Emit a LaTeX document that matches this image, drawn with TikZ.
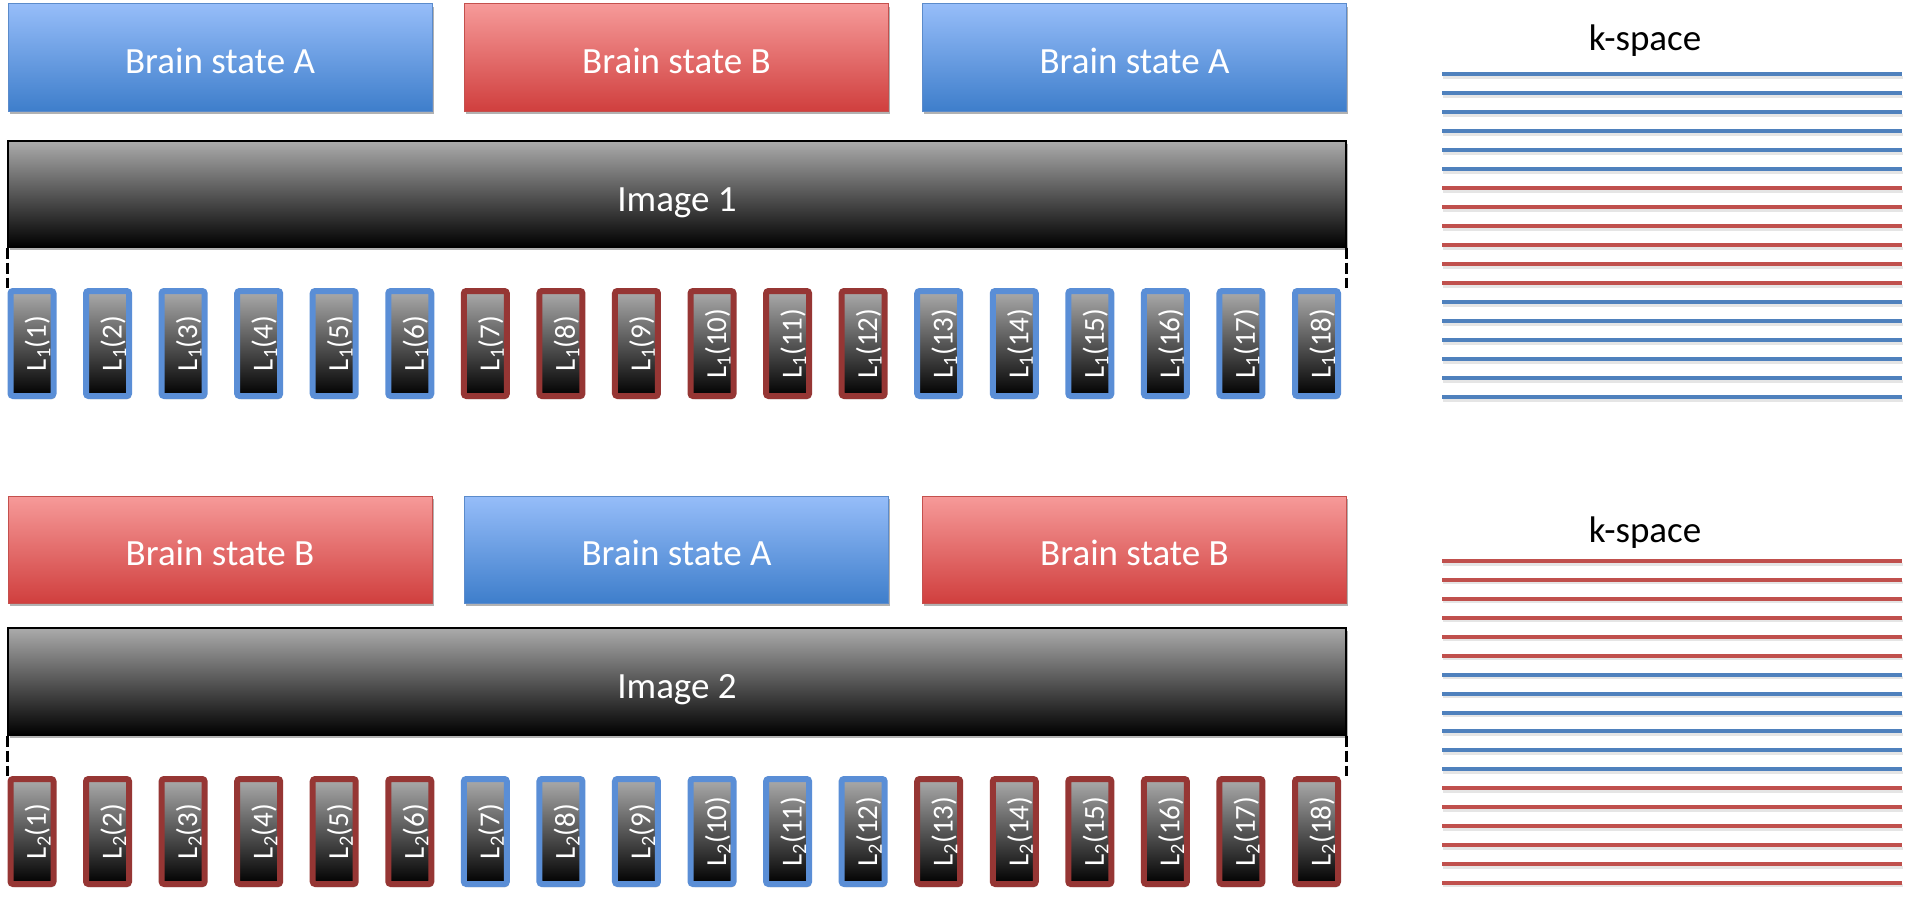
\documentclass[tikz,border=0pt]{standalone}
\usepackage{fontspec}
\usepackage{graphicx}
\setmainfont{Carlito}
\usetikzlibrary{shadows}
\definecolor{bluetop}{HTML}{96BDF9}
\definecolor{bluebot}{HTML}{3E7ECB}
\definecolor{blueedge}{HTML}{5B8BCB}
\definecolor{redtop}{HTML}{F69A99}
\definecolor{redbot}{HTML}{D03F3E}
\definecolor{rededge}{HTML}{C4504D}
\definecolor{lblue}{HTML}{5A8ED6}
\definecolor{lred}{HTML}{963634}
\definecolor{kblue}{HTML}{4F81BD}
\definecolor{kred}{HTML}{C0504D}
\definecolor{imgtop}{HTML}{ABABAB}
\tikzset{
  shad/.style={drop shadow={shadow xshift=1.5pt, shadow yshift=-3pt, opacity=0.3, fill=black}},
  statebox/.style={shad, minimum width=424pt, minimum height=107pt, inner sep=0pt, line width=1pt,
    text=white, font=\fontsize{37}{44}\selectfont, text height=32pt, text depth=0pt},
  stateA/.style={statebox, draw=blueedge, top color=bluetop, bottom color=bluebot},
  stateB/.style={statebox, draw=rededge, top color=redtop, bottom color=redbot},
  imgbox/.style={shad, draw=black, line width=1.2pt, top color=imgtop, bottom color=black,
    minimum width=1338pt, minimum height=106pt, inner sep=0pt, text=white,
    font=\fontsize{37}{44}\selectfont, text height=34pt, text depth=0pt},
  linebox/.style={shad, line width=6pt, rounded corners=2.5pt, top color=imgtop, bottom color=black,
    minimum width=43pt, minimum height=105pt, inner sep=0pt, text=white,
    font=\fontsize{29}{34}\selectfont},
  dashline/.style={line width=3.5pt, dash pattern=on 11pt off 4pt},
  kline/.style={line width=4pt},
  kshadow/.style={line width=3pt, black, opacity=0.1},
  ktitle/.style={font=\fontsize{37}{44}\selectfont, text=black, anchor=base, inner sep=0pt}
}
\begin{document}
\begin{tikzpicture}[x=1pt,y=-1pt]
\useasboundingbox (0,0) rectangle (1909,899);
\fill[white] (0,0) rectangle (1909,899);

% top row
\node[stateA] (sa1) at (220,57.5) {Brain state A};
\node[stateB] (sb1) at (676.5,57.5) {Brain state B};
\node[stateA] (sa2) at (1134.5,57.5) {Brain state A};
\node[imgbox] (img1) at (677,194) {Image 1};

% bottom row
\node[stateB] (sb2) at (220,549.5) {Brain state B};
\node[stateA] (sa3) at (676.5,549.5) {Brain state A};
\node[stateB] (sb3) at (1134.5,549.5) {Brain state B};
\node[imgbox, minimum height=107pt] (img2) at (677,681.5) {Image 2};

\foreach \i in {1,...,18}{
  \pgfmathsetmacro{\xx}{32+75.56*(\i-1)}
  \ifnum\i<7 \def\ca{lblue}\def\cb{lred}\else\ifnum\i<13 \def\ca{lred}\def\cb{lblue}\else\def\ca{lblue}\def\cb{lred}\fi\fi
  \node[linebox, draw=\ca] (La\i) at (\xx,343.5)
    {\rotatebox{90}{\raisebox{0pt}[28pt][0pt]{L\textsubscript{1}(\i)}}};
  \node[linebox, draw=\cb] (Lb\i) at (\xx,831.5)
    {\rotatebox{90}{\raisebox{0pt}[28pt][0pt]{L\textsubscript{2}(\i)}}};
}

% dashed brackets
\draw[dashline] (img1.south west) -- (img1.south west |- La1.north);
\draw[dashline] (img1.south east) -- (img1.south east |- La18.north);
\draw[dashline] (img2.south west) -- (img2.south west |- Lb1.north);
\draw[dashline] (img2.south east) -- (img2.south east |- Lb18.north);

% k-space
\node[ktitle] (k1) at (1645,51) {k-space};
\node[ktitle] (k2) at (1645,542) {k-space};
\foreach \k in {0,...,17}{
  \pgfmathsetmacro{\ya}{74.3+19*\k}
  \pgfmathsetmacro{\yb}{561+18.94*\k}
  \ifnum\k<6 \def\ca{kblue}\def\cb{kred}\else\ifnum\k<12 \def\ca{kred}\def\cb{kblue}\else\def\ca{kblue}\def\cb{kred}\fi\fi
  \draw[kshadow] (1443,\ya+3) -- (1903,\ya+3);
  \draw[kline, draw=\ca] (1442,\ya) -- (1902,\ya);
  \draw[kshadow] (1443,\yb+3) -- (1903,\yb+3);
  \draw[kline, draw=\cb] (1442,\yb) -- (1902,\yb);
}
\end{tikzpicture}
\end{document}
